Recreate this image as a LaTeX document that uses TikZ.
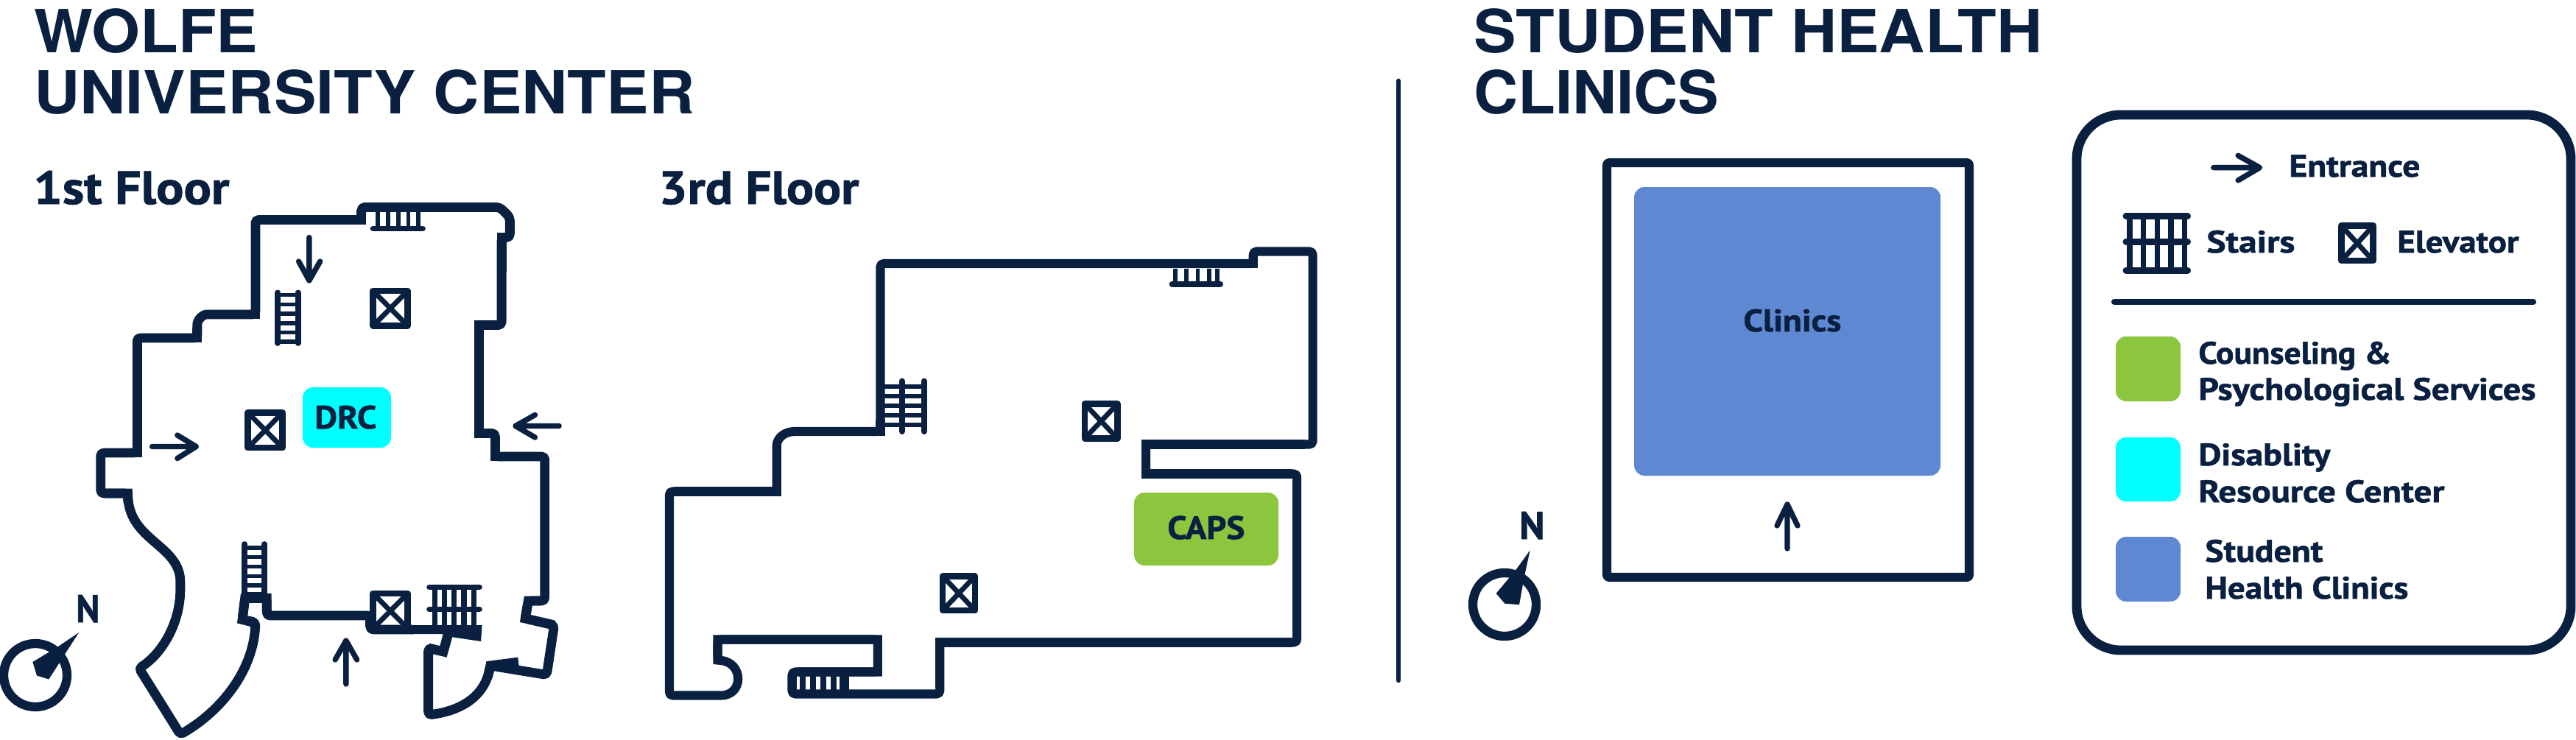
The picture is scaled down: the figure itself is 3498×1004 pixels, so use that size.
\documentclass[tikz,border=0pt]{standalone}
\usepackage{fontspec}
\usepackage{graphicx}
\setmainfont{PT Sans}[BoldFeatures={FakeBold=1.3}]
\newfontfamily\headfont{TeX Gyre Heros}
\definecolor{navy}{HTML}{0A2040}
\definecolor{capsgreen}{HTML}{8CC63F}
\definecolor{drccyan}{HTML}{00FFFF}
\definecolor{clinicblue}{HTML}{5F88D2}
\newlength\px
\setlength\px{0.02cm}
% name, x, baseline y, width, font size, text
\newcommand\lbl[6]{\node[anchor=base west,inner sep=0pt,text=navy] (#1) at (#2,#3) {\resizebox{#4\px}{\height}{\fontsize{#5}{#5}\selectfont\bfseries #6}};}
\newcommand\hd[5]{\node[anchor=base west,inner sep=0pt,text=navy] (#1) at (#2,#3) {\resizebox{#4\px}{\height}{\headfont\fontsize{46}{46}\selectfont\bfseries #5}};}
\newcommand\elev[4]{%
  \draw[iconline] (#1,#2) rectangle (#3,#4);
  \draw[crossline] (#1,#2) -- (#3,#4) (#3,#2) -- (#1,#4);}
\tikzset{
  wall/.style={draw=navy,line width=7.3pt,line join=round,fill=none},
  wallb/.style={draw=navy,line width=6.9pt,line join=round,fill=none},
  mit/.style={line join=miter,miter limit=20},
  iconline/.style={draw=navy,line width=4.9pt,line join=round},
  crossline/.style={draw=navy,line width=3.9pt},
  thinline/.style={draw=navy,line width=3.2pt},
  railline/.style={draw=navy,line width=4.5pt,line cap=round},
  arrowline/.style={draw=navy,line width=4.2pt,line cap=round,line join=round},
  roomfill/.style={rounded corners=8pt},
}
\begin{document}
\begin{tikzpicture}[x=0.02cm,y=-0.02cm]
\useasboundingbox (0,0) rectangle (3498,1004);
\fill[white] (0,0) rectangle (3498,1004);

% headings
\hd{wolfe}{46}{71}{304}{WOLFE}
\hd{wuc}{46}{154}{897}{UNIVERSITY CENTER}
\hd{shc}{2001}{71}{772}{STUDENT HEALTH}
\hd{clin}{2001}{154}{333}{CLINICS}
\lbl{floorone}{45}{277}{266}{36}{1st Floor}
\lbl{floorthree}{894}{277}{272}{36}{3rd Floor}

% divider
\draw[navy,line width=3.8pt,line cap=round] (1899,110) -- (1899,924);

% ---------- first floor
\fill[drccyan,roomfill] (411,526) rectangle (531,608);
\lbl{drc}{427}{582}{84}{25}{DRC}
\begin{scope}[shift={(0,220)},xscale=.5102,yscale=.5]
\draw[wall,rounded corners=2.5pt]
  (1192,1285) -- (1180,1330) -- (1140,1320) -- (1140,1502)
  .. controls (1230,1490) and (1290,1450) .. (1305,1368)
  -- (1455,1393) -- (1475,1258) -- (1398,1240) -- (1406,1192) -- (1450,1192)
  -- (1450,800) -- (1318,800) -- (1318,737) -- (1275,737) -- (1275,443)
  -- (1335,443) -- (1335,205) -- (1357,205) -- (1357,150) -- (1330,123)
  -- (962,123) -- (962,157) -- (680,157) -- (680,414) -- (560,414)
  .. controls (538,414) and (525,430) .. (525,450)
  -- (525,478) -- (365,478) -- (365,790) -- (268,790) -- (268,900) -- (340,900)
  .. controls (345,1030) and (480,1040) .. (480,1150)
  .. controls (480,1260) and (425,1340) .. (370,1375)
  -- (480,1555)
  .. controls (590,1490) and (675,1380) .. (680,1250)
  -- (645,1243) -- (652,1185) -- (710,1185) -- (710,1232) -- (985,1232)
  -- (985,1270) -- (1100,1270);
% square (mitred) corners
\draw[wall,mit] (1140,1320) -- (1180,1330) -- (1192,1285);
\draw[wall,mit] (1380,1358) -- (1305,1368) -- (1298,1400);
\draw[wall,mit] (1475,1258) -- (1398,1240) -- (1406,1192) -- (1440,1192);
\draw[wall,mit] (1440,800) -- (1318,800) -- (1318,745);
\draw[wall,mit] (1310,737) -- (1275,737) -- (1275,443) -- (1325,443);
\draw[wall,mit] (1335,300) -- (1335,205) -- (1350,205);
\draw[wall,mit] (962,130) -- (962,157) -- (700,157);
\draw[wall,mit] (680,170) -- (680,414) -- (570,414);
\draw[wall,mit] (525,450) -- (525,478) -- (375,478);
\draw[wall,mit] (365,490) -- (365,790) -- (280,790);
\draw[wall,mit] (280,900) -- (340,900) -- (341,925);
\draw[wall,mit] (672,1250) -- (645,1243) -- (652,1185) -- (710,1185) -- (710,1220);
\draw[wall,mit] (720,1232) -- (985,1232) -- (985,1258);
\fill[navy] (1090,1258) -- (1283,1258) -- (1280,1302) -- (1200,1290) -- (1175,1282) -- (1090,1282) -- cycle;

% elevators
\elev{993}{350}{1085}{445}
\elev{660}{681}{752}{776}
\elev{993}{1172}{1085}{1267}

% stairs top
\draw[railline] (993,181) -- (1125,181);
\foreach \xx in {1006,1033,1060,1087,1113} \draw[thinline] (\xx,135) -- (\xx,181);
% stairs ladder upper
\draw[railline] (739,355) -- (739,492) (793,355) -- (793,492);
\foreach \yy in {361,387,412,438,463,488} \draw[thinline] (739,\yy) -- (793,\yy);
% stairs ladder lower
\draw[railline] (651,1038) -- (651,1180) (704,1038) -- (704,1180);
\foreach \yy in {1048,1073,1099,1125,1150,1174} \draw[thinline] (651,\yy) -- (704,\yy);
% stairs bottom right
\draw[railline] (1143,1155) -- (1276,1155) (1143,1215) -- (1276,1215);
\foreach \xx in {1157,1183,1209,1235,1262} \draw[thinline,line width=4.1pt] (\xx,1155) -- (\xx,1262);

% arrows
\draw[arrowline] (823,205) -- (823,322) (795,270) -- (823,322) -- (852,270);
\draw[arrowline] (405,773) -- (522,773) (472,742) -- (522,773) -- (472,805);
\draw[arrowline] (1488,717) -- (1372,717) (1424,687) -- (1372,717) -- (1424,748);
\draw[arrowline] (921,1418) -- (921,1300) (892,1352) -- (921,1300) -- (950,1352);

% compass
\fill[navy] (210,1278) -- (172,1338) -- (130,1405) -- (98,1395) -- (87,1358) -- (152,1318) -- cycle;
\end{scope}
\draw[navy,line width=7pt] (48,917) circle [radius=43];
\lbl{northa}{103}{845}{32}{30}{N}

% ---------- third floor
\fill[capsgreen,roomfill] (1540,669) rectangle (1736,768);
\lbl{caps}{1585}{732}{105}{25}{CAPS}
\begin{scope}[shift={(860,220)},xscale=.6122,yscale=.5]
\draw[wallb,rounded corners=2.5pt]
  (548,732) -- (548,276) -- (1375,276) -- (1375,243) -- (1507,243) -- (1507,767)
  -- (1137,767) -- (1137,847) -- (1472,847) -- (1472,1305) -- (680,1305)
  -- (680,1445) -- (352,1445) -- (352,1385) -- (542,1385) -- (542,1297)
  -- (187,1297) -- (187,1353)
  .. controls (245,1360) and (245,1449) .. (187,1449)
  -- (80,1449) -- (80,895) -- (318,895) -- (318,780)
  .. controls (318,750) and (335,732) .. (365,732)
  -- (548,732) -- (548,700);
% square (mitred) corners
\draw[wallb,mit] (560,276) -- (1375,276) -- (1375,255);
\draw[wallb,mit] (1490,767) -- (1137,767) -- (1137,847) -- (1460,847);
\draw[wallb,mit] (1460,1305) -- (680,1305) -- (680,1430);
\draw[wallb,mit] (365,1385) -- (542,1385) -- (542,1297) -- (187,1297) -- (187,1353) -- (195,1354);
\draw[wallb,mit] (90,895) -- (318,895) -- (318,790);
\draw[wallb,mit] (400,732) -- (548,732) -- (548,700);
\elev{1001}{657}{1074}{751}
\elev{686}{1125}{758}{1218}
% stairs top
\draw[railline] (1195,332) -- (1302,332);
\foreach \xx in {1202,1227,1252,1277,1295} \draw[thinline,line width=3.4pt] (\xx,290) -- (\xx,332);
% stairs left
\draw[railline] (596,595) -- (596,732) (645,595) -- (645,732);
\foreach \yy in {610,636,662,688,714} \draw[thinline] (550,\yy) -- (645,\yy);
% stairs bottom
\fill[navy] (352,1390) rectangle (362,1440);
\foreach \xx in {376,398,421,444} \draw[thinline,line width=4.6pt] (\xx,1390) -- (\xx,1440);
\fill[navy] (458,1385) rectangle (478,1445);
\end{scope}

% ---------- student health clinics
\fill[clinicblue,rounded corners=8pt] (2219,254) rectangle (2635,646);
\draw[wall,line width=7pt,rounded corners=2pt] (2182,221) rectangle (2674,784);
\lbl{clinicslbl}{2367}{450}{133}{24}{Clinics}
\draw[arrowline] (2427,745) -- (2427,685) (2413,714) -- (2427,685) -- (2441,714);
\draw[navy,line width=7pt] (2043,821) circle [radius=43];
\begin{scope}[shift={(1960,120)},xscale=.981,yscale=.51]
\fill[navy] (120,1230) -- (112,1300) -- (105,1375) -- (85,1372) -- (73,1345) -- (100,1283) -- cycle;
% legend icons
\draw[arrowline] (1066,211) -- (1128,211) (1100,179) -- (1130,211) -- (1100,245);
\draw[railline,line width=5.2pt] (945,340) -- (1030,340) (945,408) -- (1030,408) (945,485) -- (1030,485);
\foreach \xx in {950,969,988,1007,1026} \draw[thinline,line width=4.2pt] (\xx,340) -- (\xx,485);
\elev{1243}{366}{1287}{459}
\end{scope}
\lbl{northb}{2063}{732}{34}{30}{N}

% ---------- legend
\draw[wall,rounded corners=34pt] (2820,156) rectangle (3491,883);
\draw[navy,line width=4.6pt,line cap=round] (2871,410) -- (3440,410);
\fill[capsgreen,roomfill] (2873,457) rectangle (2961,545);
\fill[drccyan,roomfill] (2873,594) rectangle (2961,681);
\fill[clinicblue,roomfill] (2873,729) rectangle (2961,817);
\lbl{entr}{3108}{240}{178}{24}{Entrance}
\lbl{stairs}{2996}{343}{120}{24}{Stairs}
\lbl{elevator}{3255}{343}{165}{24}{Elevator}
\lbl{couns}{2985}{494}{262}{24}{Counseling \&}
\lbl{psych}{2985}{543}{458}{24}{Psychological Services}
\lbl{disab}{2985}{632}{179}{24}{Disablity}
\lbl{resrc}{2985}{682}{334}{24}{Resource Center}
\lbl{stud}{2994}{763}{160}{24}{Student}
\lbl{hlth}{2994}{813}{276}{24}{Health Clinics}
\end{tikzpicture}
\end{document}
